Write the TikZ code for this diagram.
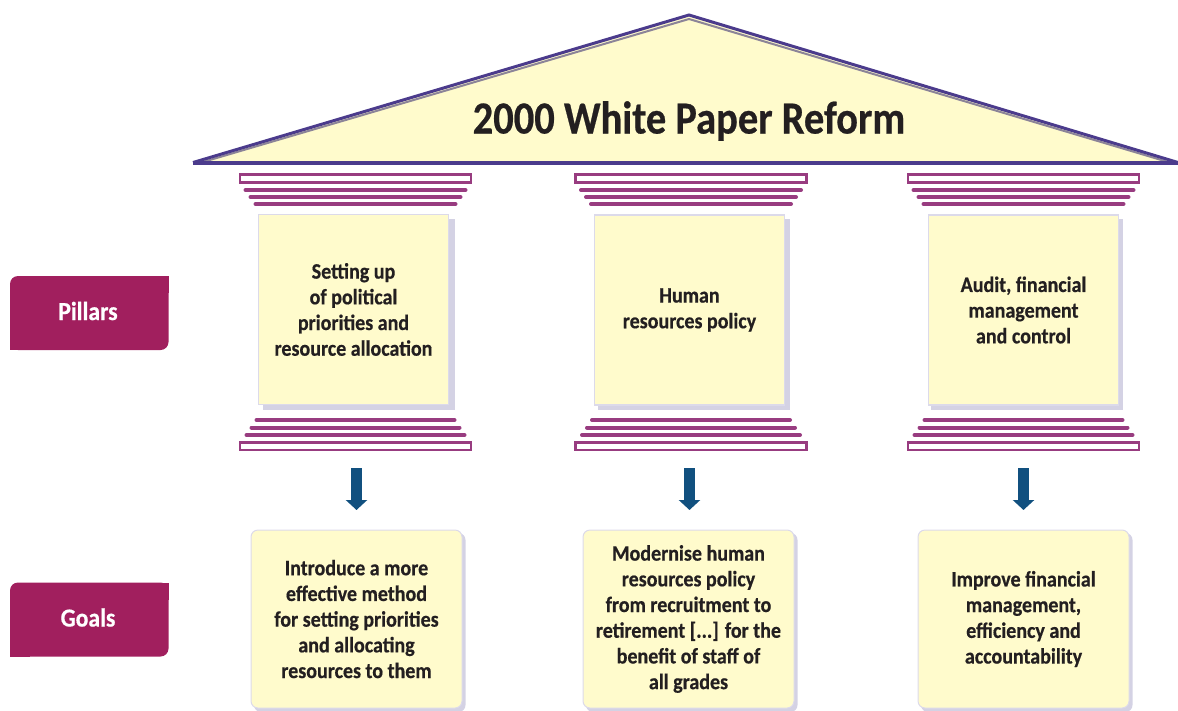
\documentclass[tikz,border=0pt]{standalone}
\usepackage{fontspec}
\setmainfont{Carlito}[FakeStretch=0.91, BoldFeatures={FakeBold=0.5}]
\newfontfamily\titlefont{Carlito}[FakeStretch=0.88, BoldFeatures={FakeBold=0.5}]
\usetikzlibrary{arrows.meta}
\definecolor{paleyellow}{HTML}{FFFBCC}
\definecolor{roofline}{HTML}{4B3B8C}
\definecolor{roofshade}{HTML}{8C8498}
\definecolor{stripe}{HTML}{983C80}
\definecolor{lavborder}{HTML}{DCDAEA}
\definecolor{lavshadow}{HTML}{D4D2E4}
\definecolor{crimson}{HTML}{A11F5E}
\definecolor{arrowblue}{HTML}{11507F}
\definecolor{txt}{HTML}{231F20}
\tikzset{
  bodytext/.style={font=\bfseries\fontsize{22}{25.7}\selectfont, text=txt, align=center},
  shaftbox/.style={draw=lavborder, line width=1.5pt, fill=paleyellow, minimum width=190pt, minimum height=190pt, inner sep=0pt, bodytext},
  goalbox/.style={draw=lavborder, line width=1pt, fill=paleyellow, rounded corners=7pt, minimum width=211pt, minimum height=178pt, inner sep=0pt, bodytext},
  stripeline/.style={stripe, line width=4pt, line cap=round},
  capbar/.style={draw=stripe, line width=2.2pt, fill=white},
  labeltext/.style={font=\bfseries\fontsize{26}{28}\selectfont, text=white},
  downarrow/.style={arrowblue, line width=11pt, -{Triangle[width=21pt,length=10pt]}},
}
\begin{document}
\begin{tikzpicture}[x=1pt,y=-1pt]
\useasboundingbox (0,0) rectangle (1178,710);
% roof
\fill[paleyellow] (193,163) -- (689,15) -- (1178,163) -- cycle;
\draw[roofshade, line width=2pt, line join=round] (203,162) -- (689,19) -- (1168,162);
\draw[roofline, line width=3pt, line join=miter] (193,162.5) -- (689,15) -- (1178,162.5);
\draw[roofline, line width=4pt] (193,163) -- (1178,163);
\node[font=\titlefont\bfseries\fontsize{46}{50}\selectfont, text=txt] (title) at (689,121) {2000 White Paper Reform};

% pillars
\foreach \cx/\nm in {355.5/p1, 691/p2, 1023.5/p3}{
  % capital
  \draw[capbar] (\cx-115.5,174.5) rectangle (\cx+115.5,182.5);
  \draw[stripeline] (\cx-110,190) -- (\cx+110,190);
  \draw[stripeline] (\cx-105,197) -- (\cx+105,197);
  \draw[stripeline] (\cx-100,204) -- (\cx+100,204);
  % base
  \draw[stripeline] (\cx-99,420) -- (\cx+99,420);
  \draw[stripeline] (\cx-104,427.5) -- (\cx+104,427.5);
  \draw[stripeline] (\cx-109,435) -- (\cx+109,435);
  \draw[capbar] (\cx-115.5,442.5) rectangle (\cx+115.5,450);
  % shaft shadow
  \fill[lavshadow] (\cx-93,219) rectangle (\cx+99,410);
}
\node[shaftbox] (s1) at (353.5,309.5) {Setting up\\of political\\priorities and\\resource allocation};
\node[shaftbox] (s2) at (689.5,310) {Human\\resources policy};
\node[shaftbox] (s3) at (1023.5,310) {Audit, financial\\management\\and control};

% goal boxes
\foreach \cx in {356.5,688.5,1023.5}{
  \fill[lavshadow, rounded corners=7pt] (\cx-102.5,533) rectangle (\cx+109,712);
}
\node[goalbox] (g1) at (356.5,619) {Introduce a more\\effective method\\for setting priorities\\and allocating\\resources to them};
\node[goalbox] (g2) at (688.5,619) {Modernise human\\resources policy\\from recruitment to\\retirement [...] for the\\benefit of staff of\\all grades};
\node[goalbox] (g3) at (1023.5,619) {Improve financial\\management,\\efficiency and\\accountability};

% arrows
\coordinate (a1s) at (356.5,468); \coordinate (a1e) at (356.5,510);
\coordinate (a2s) at (689.5,468); \coordinate (a2e) at (689.5,510);
\coordinate (a3s) at (1023.5,468); \coordinate (a3e) at (1023.5,510);
\draw[downarrow] (a1s) -- (a1e);
\draw[downarrow] (a2s) -- (a2e);
\draw[downarrow] (a3s) -- (a3e);

% left labels
\foreach \yc/\nm/\tx in {313/pillars/Pillars, 619.5/goals/Goals}{
  \fill[crimson, rounded corners=8pt] (10,\yc-37) rectangle (168.5,\yc+37);
  \fill[crimson] (150,\yc-37) rectangle (168.5,\yc-20);
  \fill[crimson] (10,\yc+20) rectangle (30,\yc+37);
  \node[labeltext] (\nm) at (88,\yc-2) {\tx};
}
\end{tikzpicture}
\end{document}
